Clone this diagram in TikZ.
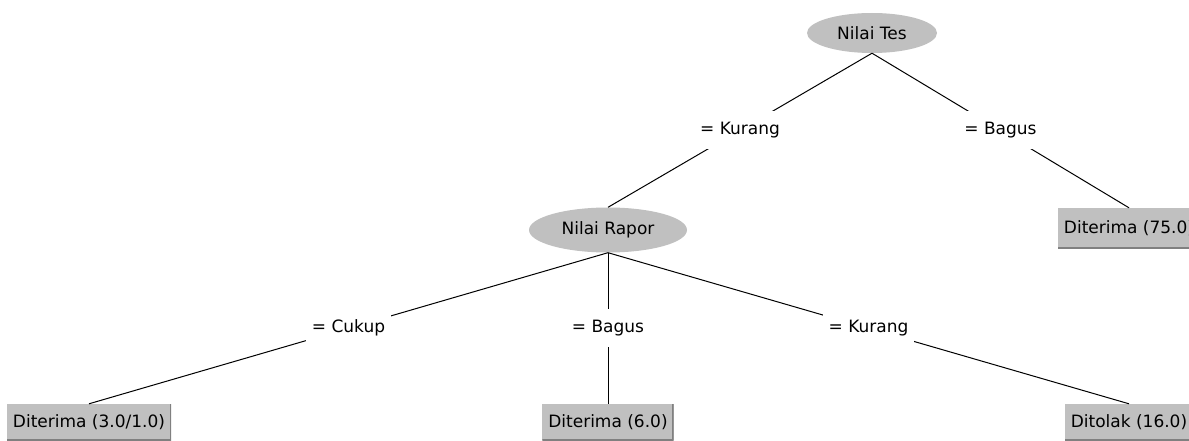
\documentclass[tikz,border=0pt]{standalone}
\usepackage{fontspec}
\setmainfont{DejaVu Sans}
\usetikzlibrary{shapes.geometric}
\definecolor{nodegray}{RGB}{192,192,192}
\definecolor{shadegray}{RGB}{128,128,128}
\tikzset{
  every node/.style={font=\fontsize{17}{20}\selectfont},
  splitnode/.style={ellipse, fill=nodegray, inner sep=0pt},
  leafbox/.style={rectangle, fill=nodegray, inner xsep=6pt, inner ysep=0pt,
    path picture={\draw[shadegray, line width=3pt]
      (path picture bounding box.north east) -- (path picture bounding box.south east)
      -- (path picture bounding box.south west);}},
  edgelabel/.style={fill=white, inner xsep=6pt, inner ysep=0pt, minimum height=38pt, midway},
  edge/.style={draw=black, line width=1pt}
}
\begin{document}
\begin{tikzpicture}[x=1pt,y=-1pt]
\clip (0,0) rectangle (1189,441);
\fill[white] (0,0) rectangle (1189,441);
% split nodes
\node[splitnode, minimum width=130pt, minimum height=40pt] (tes) at (872,33) {Nilai Tes};
\node[splitnode, minimum width=158pt, minimum height=45pt] (rapor) at (608,230) {Nilai Rapor};
% leaves
\node[leafbox, minimum height=40pt] (leafA) at (1129,228) {Diterima (75.0)};
\node[leafbox, minimum height=36pt] (leafB) at (89,422) {Diterima (3.0/1.0)};
\node[leafbox, minimum height=36pt] (leafC) at (608,422) {Diterima (6.0)};
\node[leafbox, minimum height=36pt] (leafD) at (1129,422) {Ditolak (16.0)};
% edges with labels
\draw[edge] (tes.south) -- node[edgelabel] (lk1) {= Kurang} (rapor.north);
\draw[edge] (tes.south) -- node[edgelabel] (lb1) {= Bagus} (leafA.north);
\draw[edge] (rapor.south) -- node[edgelabel] (lc2) {= Cukup} (leafB.north);
\draw[edge] (rapor.south) -- node[edgelabel] (lb2) {= Bagus} (leafC.north);
\draw[edge] (rapor.south) -- node[edgelabel] (lk2) {= Kurang} (leafD.north);
\end{tikzpicture}
\end{document}
